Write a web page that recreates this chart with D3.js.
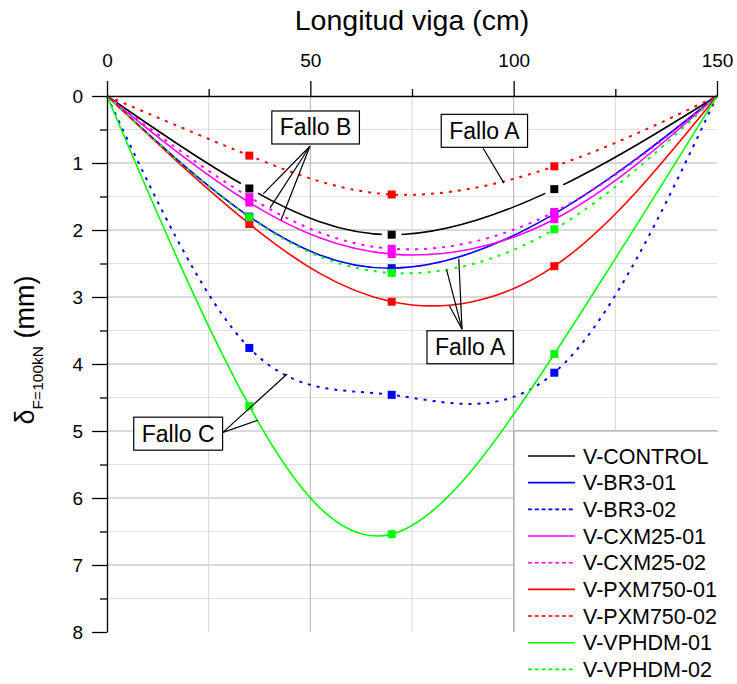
<!DOCTYPE html>
<html>
<head>
<meta charset="utf-8">
<script src="https://cdn.jsdelivr.net/npm/d3@7"></script>
<style>
  body { margin: 0; background: #fff; }
  text { font-family: Arial, "Liberation Sans", sans-serif; fill: #000; }
</style>
</head>
<body>
<svg id="chart" width="737" height="684"></svg>
<script>
// measuring points along the beam (cm)
const posCm = [0, 35, 70, 110, 150];

// deflection at F = 100 kN (mm), one array per beam
const vControl  = [0, 1.38, 2.07, 1.39, 0];
const vBr301    = [0, 1.80, 2.57, 1.76, 0];
const vBr302    = [0, 3.76, 4.46, 4.13, 0];
const vCxm2501  = [0, 1.59, 2.36, 1.84, 0];
const vCxm2502  = [0, 1.51, 2.28, 1.73, 0];
const vPxm75001 = [0, 1.91, 3.07, 2.54, 0];
const vPxm75002 = [0, 0.89, 1.47, 1.05, 0];
const vVphdm01  = [0, 4.63, 6.54, 3.85, 0];
const vVphdm02  = [0, 1.81, 2.64, 1.99, 0];

const seriesNames = ["V-CONTROL", "V-BR3-01", "V-BR3-02", "V-CXM25-01", "V-CXM25-02",
                     "V-PXM750-01", "V-PXM750-02", "V-VPHDM-01", "V-VPHDM-02"];
const seriesVals  = [vControl, vBr301, vBr302, vCxm2501, vCxm2502,
                     vPxm75001, vPxm75002, vVphdm01, vVphdm02];
const seriesColor = ["#000000", "#0000ff", "#0000ff", "#ff00ff", "#ff00ff",
                     "#ff0000", "#ff0000", "#00ff00", "#00ff00"];
const seriesDash  = [false, false, true, false, true, false, true, false, true];

const xTicksMajor = [0, 50, 100, 150];
const xTicksMinor = [25, 75, 125];
const yTicksMajor = [0, 1, 2, 3, 4, 5, 6, 7, 8];
const yTicksMinor = [0.5, 1.5, 2.5, 3.5, 4.5, 5.5, 6.5, 7.5];

// failure mode call-outs (label centre, anchor of leaders, targets) in data units
const calloutText    = ["Fallo B", "Fallo A", "Fallo A", "Fallo C"];
const calloutCenter  = [[51.3, 0.47], [92.8, 0.52], [89.3, 3.75], [17.5, 5.04]];
const calloutAnchor  = [[49.9, 0.75], [92.5, 0.78], [87.3, 3.48], [28.5, 5.02]];
const calloutTargets = [
  [[38.4, 1.46], [40.1, 1.67], [42.8, 1.85]],
  [[97.6, 1.30]],
  [[86.5, 2.43], [83.5, 2.59], [84.2, 3.13]],
  [[44.3, 4.15], [37.1, 4.84]]
];

const svg = d3.select("#chart");
const x = d3.scaleLinear().domain([0, 150]).range([107, 717]);
const y = d3.scaleLinear().domain([0, 8]).range([96, 632]);

// grid
const grid = svg.append("g").attr("class", "grid");
grid.selectAll("line.hmin").data(yTicksMinor).enter().append("line")
  .attr("x1", x(0)).attr("x2", x(150))
  .attr("y1", d => y(d)).attr("y2", d => y(d))
  .attr("stroke", "#e2e2e2").attr("stroke-width", 1);
grid.selectAll("line.hmaj").data(yTicksMajor.filter(d => d > 0 && d < 8)).enter().append("line")
  .attr("x1", x(0)).attr("x2", x(150))
  .attr("y1", d => y(d)).attr("y2", d => y(d))
  .attr("stroke", "#b4b4b4").attr("stroke-width", 1);
grid.selectAll("line.v").data([25, 50, 75, 100, 125]).enter().append("line")
  .attr("y1", y(0)).attr("y2", y(8))
  .attr("x1", d => x(d)).attr("x2", d => x(d))
  .attr("stroke", d => d % 50 === 0 ? "#b4b4b4" : "#d6d6d6").attr("stroke-width", 1);

// curves
const line = d3.line()
  .x((d, i) => x(posCm[i]))
  .y(d => y(d))
  .curve(d3.curveNatural);

const defs = svg.append("defs");
// gap around the symbols of V-CONTROL
const gapMask = defs.append("mask").attr("id", "gapControl").attr("maskUnits", "userSpaceOnUse")
  .attr("x", 0).attr("y", 0).attr("width", 737).attr("height", 684);
gapMask.append("rect").attr("width", 737).attr("height", 684).attr("fill", "#fff");
gapMask.selectAll("circle").data(vControl.slice(1, 4)).enter().append("circle")
  .attr("cx", (d, i) => x(posCm[i + 1])).attr("cy", d => y(d)).attr("r", 10).attr("fill", "#000");

const curves = svg.append("g").attr("class", "curves");
seriesVals.forEach((vals, s) => {
  const g = curves.append("g");
  g.append("path")
    .attr("d", line(vals))
    .attr("fill", "none")
    .attr("stroke", seriesColor[s])
    .attr("stroke-width", seriesDash[s] ? 2 : 1.6)
    .attr("stroke-dasharray", seriesDash[s] ? "3,6" : null)
    .attr("mask", s === 0 ? "url(#gapControl)" : null);
});
seriesVals.forEach((vals, s) => {
  curves.append("g").selectAll("rect")
    .data(vals.map((v, i) => [posCm[i], v]).slice(1, 4))
    .enter().append("rect")
      .attr("x", d => x(d[0]) - 4).attr("y", d => y(d[1]) - 4)
      .attr("width", 8).attr("height", 8)
      .attr("fill", seriesColor[s]);
});

// axes
svg.append("g").attr("transform", "translate(0," + y(0) + ")")
  .call(d3.axisTop(x).tickValues(xTicksMajor).tickSize(15).tickSizeOuter(0).tickPadding(14));
svg.append("g").attr("transform", "translate(0," + y(0) + ")")
  .call(d3.axisTop(x).tickValues(xTicksMinor).tickSize(7).tickSizeOuter(0).tickFormat(""))
  .select(".domain").remove();
svg.append("g").attr("transform", "translate(" + x(0) + ",0)")
  .call(d3.axisLeft(y).tickValues(yTicksMajor).tickSize(15).tickSizeOuter(0).tickPadding(9));
svg.append("g").attr("transform", "translate(" + x(0) + ",0)")
  .call(d3.axisLeft(y).tickValues(yTicksMinor).tickSize(7).tickSizeOuter(0).tickFormat(""))
  .select(".domain").remove();
svg.selectAll(".domain, .tick line").attr("stroke", "#000").attr("stroke-width", 1.3);
svg.selectAll(".tick text").attr("font-size", 19).attr("font-family", "Arial, 'Liberation Sans', sans-serif").attr("fill", "#000");

// titles
svg.append("text").attr("x", 412).attr("y", 30).attr("text-anchor", "middle")
  .attr("font-size", 28.5).text("Longitud viga (cm)");
const yl = svg.append("text").attr("transform", "translate(34,350) rotate(-90)")
  .attr("text-anchor", "middle").attr("font-size", 27);
yl.append("tspan").text("δ");
yl.append("tspan").attr("font-size", 15.5).attr("dy", 9).text("F=100kN");
yl.append("tspan").attr("dy", -9).text(" (mm)");

// call-outs
calloutText.forEach((t, k) => {
  const g = svg.append("g");
  calloutTargets[k].forEach(p => {
    g.append("line")
      .attr("x1", x(calloutAnchor[k][0])).attr("y1", y(calloutAnchor[k][1]))
      .attr("x2", x(p[0])).attr("y2", y(p[1]))
      .attr("stroke", "#000").attr("stroke-width", 1.2);
  });
  const cx = x(calloutCenter[k][0]), cy = y(calloutCenter[k][1]);
  const rect = g.append("rect").attr("fill", "#fff").attr("stroke", "#000").attr("stroke-width", 1.2);
  const txt = g.append("text").attr("x", cx).attr("y", cy + 8).attr("text-anchor", "middle")
    .attr("font-size", 23).text(t);
  const w = txt.node().getComputedTextLength() + 16;
  rect.attr("x", cx - w / 2).attr("y", cy - 16.5).attr("width", w).attr("height", 33);
});

// legend
const lg = svg.append("g");
lg.append("rect").attr("x", 514).attr("y", 431).attr("width", 204).attr("height", 201).attr("fill", "#fff");
lg.append("path").attr("d", "M514,632V431H718").attr("fill", "none").attr("stroke", "#a0a0a0").attr("stroke-width", 1);
seriesNames.forEach((name, s) => {
  const cy = 456 + s * 26.67;
  lg.append("line").attr("x1", 528).attr("x2", 575).attr("y1", cy).attr("y2", cy)
    .attr("stroke", seriesColor[s]).attr("stroke-width", 1.6)
    .attr("stroke-dasharray", seriesDash[s] ? "4,2.8" : null);
  lg.append("text").attr("x", 583).attr("y", cy + 7.5).attr("font-size", 21.5).text(name);
});
</script>
</body>
</html>
